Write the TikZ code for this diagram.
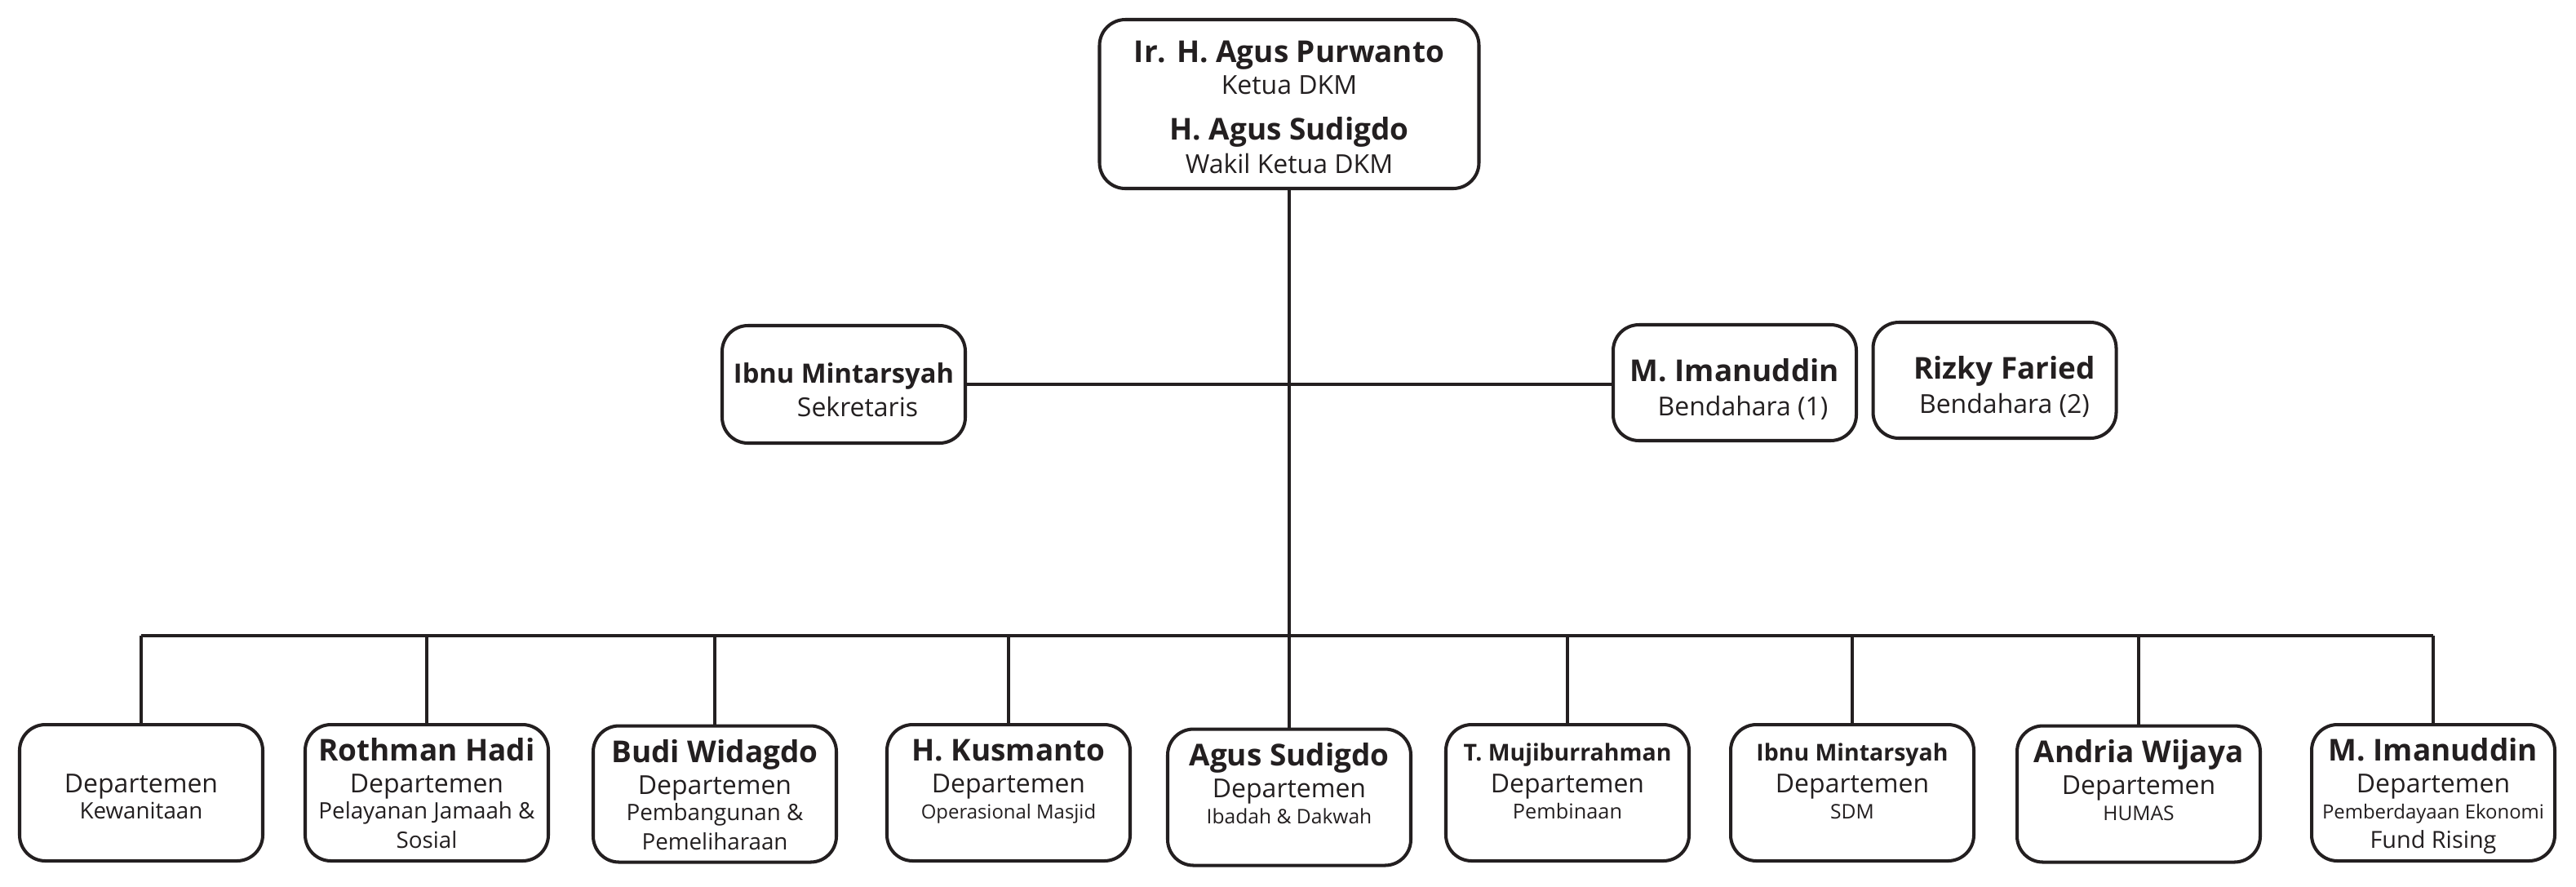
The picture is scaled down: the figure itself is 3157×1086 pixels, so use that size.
\documentclass[tikz,border=0pt]{standalone}
\usepackage{fontspec}
\setmainfont{Open Sans}
\usetikzlibrary{positioning}
\definecolor{inkc}{HTML}{231F20}
\tikzset{
  box/.style={draw=inkc,text=inkc,line width=1.15pt,rounded corners=9pt,fill=white,
    minimum width=29.8mm,minimum height=16.7mm,inner sep=0pt,align=center,
    font={\fontsize{9.1}{0}\selectfont\lineskiplimit=-100pt}},
  conn/.style={draw=inkc,line width=0.95pt}
}
\newcommand\nm[2][10.5]{{\bfseries\fontsize{#1}{0}\selectfont#2}}
\newcommand\sub[2][7.9]{{\fontsize{#1}{0}\selectfont#2}}
\newcommand\dn{\rule[-2.85pt]{0pt}{2.85pt}}

\begin{document}
\begin{tikzpicture}[x=0.1mm,y=-0.1mm]
\useasboundingbox (0,0) rectangle (3157,1086);
% pimpinan
\node[box,minimum width=46.5mm,minimum height=20.7mm] (ketua) at (1580,127.5)
  {\rule{0pt}{12.5pt}\nm{Ir. H. Agus Purwanto}\\[11.1pt]Ketua DKM\\[15.9pt]
   \nm{H. Agus Sudigdo}\\[11.7pt]Wakil Ketua DKM\dn};
% sekretaris dan bendahara
\node[box,minimum height=14.4mm] (sek) at (1034,471)
  {\rule{0pt}{13.9pt}\nm[9.3]{Ibnu Mintarsyah}\\[11.7pt]\hspace*{9.7pt}Sekretaris\dn};
\node[box,minimum height=14.2mm] (ben1) at (2126,469)
  {\rule{0pt}{13.9pt}\nm{M. Imanuddin}\\[11.9pt]\hspace*{5.7pt}Bendahara (1)\dn};
\node[box,minimum height=14.2mm] (ben2) at (2444.5,466)
  {\rule{0pt}{13.9pt}\hspace*{6.8pt}\nm{Rizky Faried}\\[11.9pt]\hspace*{6.8pt}Bendahara (2)\dn};
% departemen
\foreach \x/\y/\who/\what/\more [count=\i] in {
  173/971.5/{}/{\sub{Kewanitaan}}/{},
  523/971.5/{\nm{Rothman Hadi}}/{\sub{Pelayanan Jamaah \&}}/{\sub{Sosial}},
  876/973/{\nm{Budi Widagdo}}/{\sub{Pembangunan \&}}/{\sub{Pemeliharaan}},
  1236/971.5/{\nm{H. Kusmanto}}/{\sub[6.8]{Operasional Masjid}}/{},
  1580/977/{\nm{Agus Sudigdo}}/{\sub[7]{Ibadah \& Dakwah}}/{},
  1921/971.5/{\nm[8.1]{T. Mujiburrahman}}/{\sub[7.2]{Pembinaan}}/{},
  2270/971.5/{\nm[8.1]{Ibnu Mintarsyah}}/{\sub[7]{SDM}}/{},
  2621/973/{\nm{Andria Wijaya}}/{\sub[7]{HUMAS}}/{},
  2982/971.5/{\nm{M. Imanuddin}}/{\sub[6.8]{Pemberdayaan Ekonomi}}/{\sub[8.2]{Fund Rising}}}
  \node[box] (d\i) at (\x,\y)
    {\rule{0pt}{11.1pt}\who\\[11.1pt]Departemen\\[9.1pt]\what\\[10.24pt]\more\dn};
% garis
\coordinate (bus) at (1580,779);
\draw[conn] (ketua.south) -- (bus);
\draw[conn] (sek.east) -- (sek.east -| ben1.west);
\draw[conn] (d1.north |- bus) -- (d9.north |- bus);
\foreach \i in {1,...,9}
  \draw[conn] (d\i.north |- bus) -- (d\i.north);
\end{tikzpicture}
\end{document}
